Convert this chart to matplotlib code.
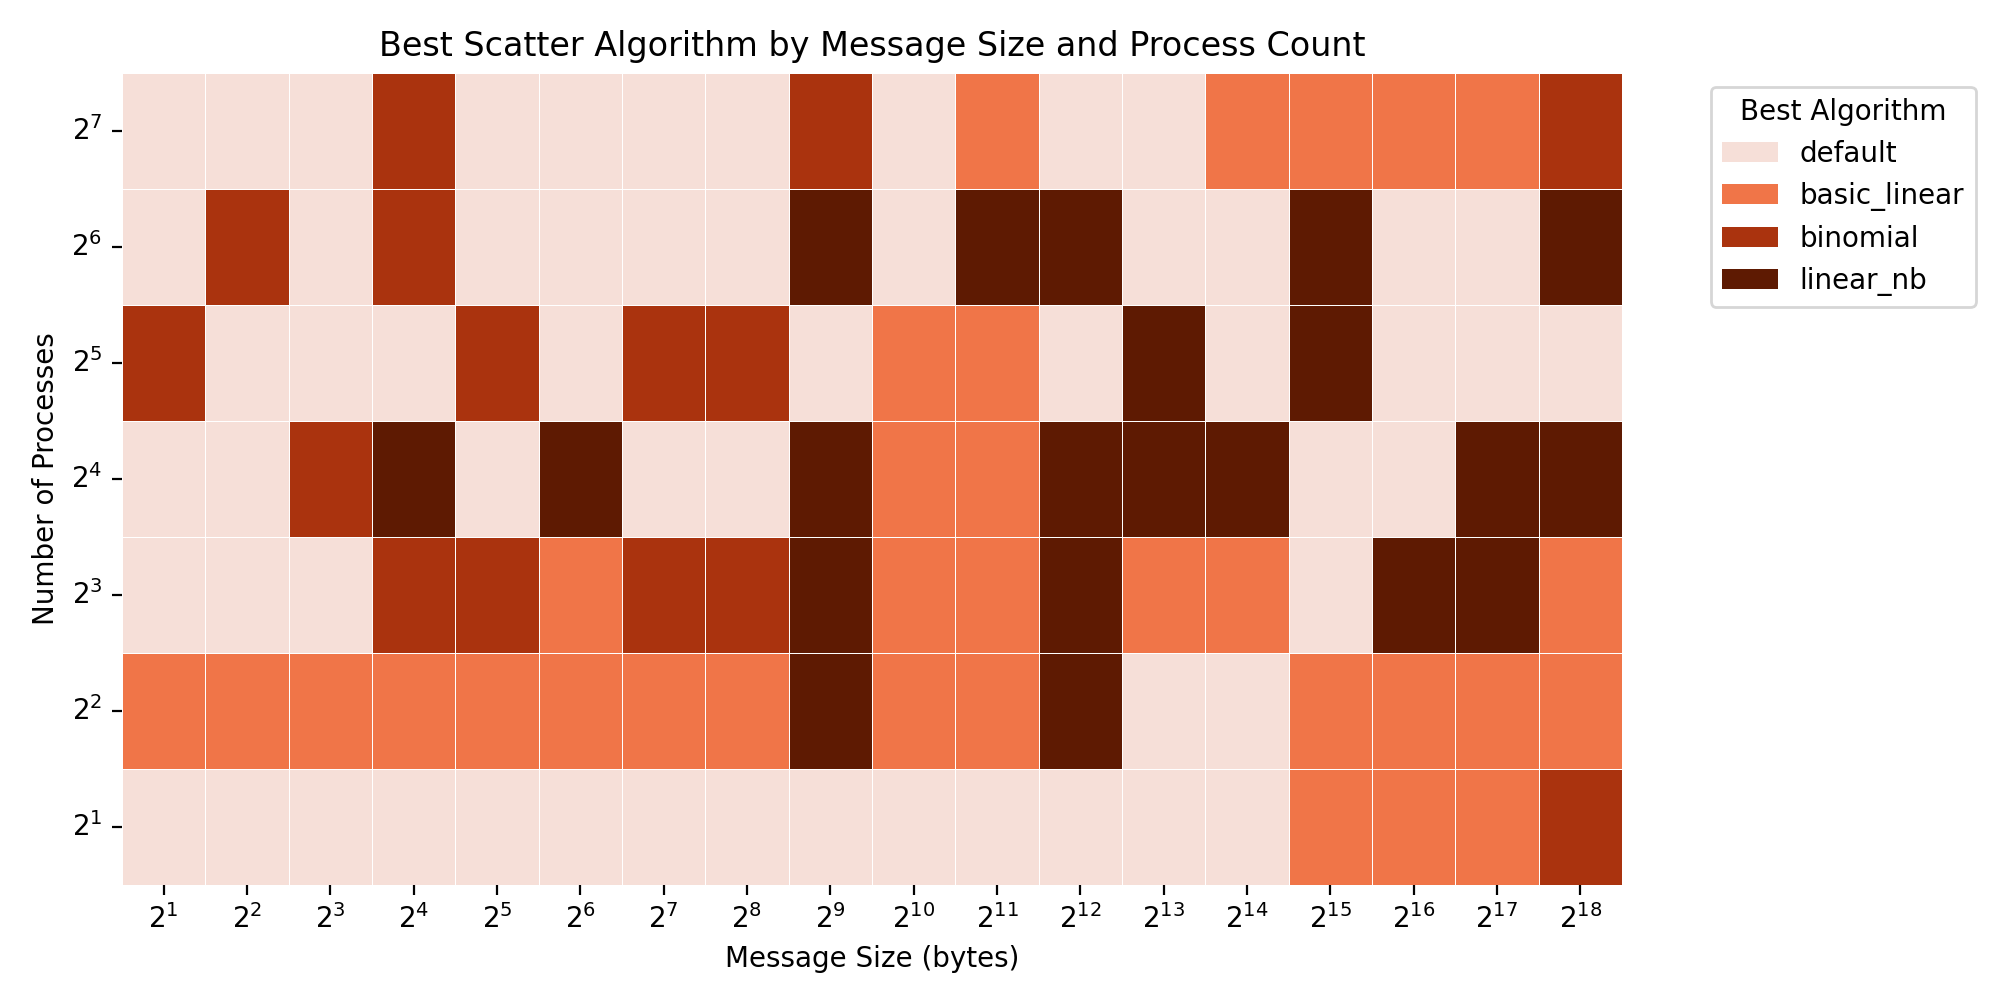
import matplotlib
matplotlib.use('Agg')
import matplotlib.pyplot as plt
from matplotlib.colors import ListedColormap
from matplotlib.patches import Patch
import numpy as np
import seaborn as sns

# algorithm names and colours
algorithms = ['default', 'basic_linear', 'binomial', 'linear_nb']
colors = ['#f6dfd8', '#f07548', '#aa330e', '#5e1a02']

msg_exps = list(range(1, 19))     # message size 2^1 .. 2^18
proc_exps = [7, 6, 5, 4, 3, 2, 1]  # process count, top to bottom

# best algorithm index per (process row, message column)
best = [
    [0, 0, 0, 2, 0, 0, 0, 0, 2, 0, 1, 0, 0, 1, 1, 1, 1, 2],
    [0, 2, 0, 2, 0, 0, 0, 0, 3, 0, 3, 3, 0, 0, 3, 0, 0, 3],
    [2, 0, 0, 0, 2, 0, 2, 2, 0, 1, 1, 0, 3, 0, 3, 0, 0, 0],
    [0, 0, 2, 3, 0, 3, 0, 0, 3, 1, 1, 3, 3, 3, 0, 0, 3, 3],
    [0, 0, 0, 2, 2, 1, 2, 2, 3, 1, 1, 3, 1, 1, 0, 3, 3, 1],
    [1, 1, 1, 1, 1, 1, 1, 1, 3, 1, 1, 3, 0, 0, 1, 1, 1, 1],
    [0, 0, 0, 0, 0, 0, 0, 0, 0, 0, 0, 0, 0, 0, 1, 1, 1, 2],
]

fig, ax = plt.subplots(figsize=(10, 5), dpi=200)
sns.heatmap(np.array(best), cmap=ListedColormap(colors), vmin=-0.5, vmax=3.5,
            linewidths=0.3, linecolor='white', cbar=False, ax=ax,
            xticklabels=['$2^{%d}$' % e for e in msg_exps],
            yticklabels=['$2^{%d}$' % e for e in proc_exps])
plt.setp(ax.get_yticklabels(), rotation=0)
plt.setp(ax.get_xticklabels(), rotation=0)
ax.set_xlabel('Message Size (bytes)')
ax.set_ylabel('Number of Processes')
ax.set_title('Best Scatter Algorithm by Message Size and Process Count', fontsize=12)

handles = [Patch(facecolor=c, label=a) for a, c in zip(algorithms, colors)]
ax.legend(handles=handles, title='Best Algorithm', loc='upper left',
          bbox_to_anchor=(1.05, 1.0), fontsize=10, title_fontsize=10)

fig.subplots_adjust(left=0.061, right=0.811, top=0.927, bottom=0.115)
fig.savefig('out.png')
